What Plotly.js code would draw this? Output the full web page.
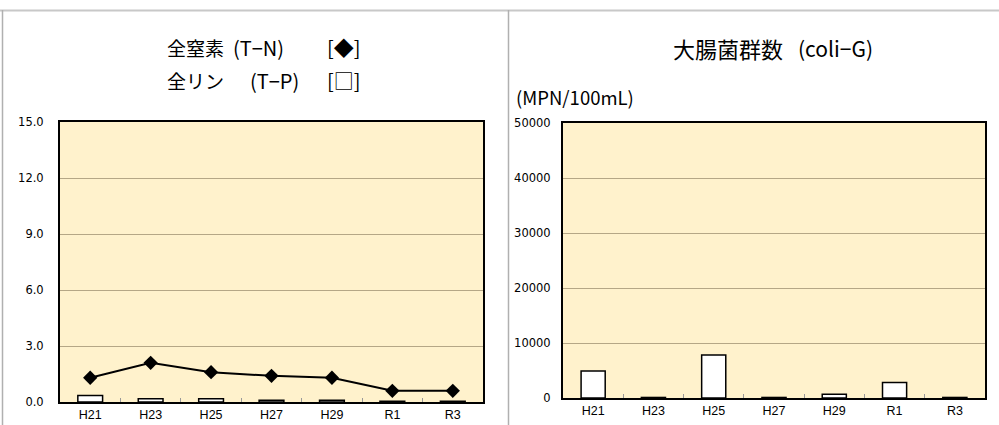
<!DOCTYPE html>
<html>
<head>
<meta charset="utf-8">
<script src="https://cdn.plot.ly/plotly-3.0.1.min.js"></script>
<style>html,body{margin:0;padding:0;background:#fff;}#chart{width:999px;height:425px;}</style>
</head>
<body>
<div id="chart"></div>
<script>
const years = ["H21", "H23", "H25", "H27", "H29", "R1", "R3"];
const totalNitrogen = [1.3, 2.1, 1.6, 1.4, 1.3, 0.6, 0.6];
const totalPhosphorus = [0.35, 0.18, 0.18, 0.1, 0.1, 0.04, 0.04];
const coliforms = [4900, 100, 7800, 100, 700, 2800, 100];
const leftTicks = [0, 3, 6, 9, 12, 15];
const rightTicks = [0, 10000, 20000, 30000, 40000, 50000];

const W = 999, H = 425;
const px = v => v / W;
const py = v => 1 - v / H;

const barStyle = {color: "#ffffff", line: {color: "#000000", width: 1.5}};
const yTickFont = {family: "DejaVu Sans, sans-serif", size: 11.5, color: "#000"};
const xTickFont = {family: "Liberation Sans, Arial, sans-serif", size: 12.5, color: "#000"};
const jp = "Noto Sans CJK JP, sans-serif";

const traces = [
  {type: "bar", x: years, y: totalPhosphorus, xaxis: "x", yaxis: "y", width: 0.41,
   marker: barStyle, hoverinfo: "skip", name: "T-P"},
  {type: "scatter", mode: "lines+markers", x: years, y: totalNitrogen, xaxis: "x", yaxis: "y",
   line: {color: "#000", width: 2}, marker: {symbol: "diamond", size: 11, color: "#000"}, name: "T-N"},
  {type: "bar", x: years, y: coliforms, xaxis: "x2", yaxis: "y2", width: 0.4,
   marker: barStyle, name: "coli-G"}
];

const xCommon = {type: "category", showline: true, mirror: true, linecolor: "#000", linewidth: 2,
  ticks: "inside", tickson: "boundaries", ticklen: 4, tickcolor: "#999", tickwidth: 1,
  showgrid: false, tickfont: xTickFont, fixedrange: true, zeroline: false};
const yCommon = {showline: true, mirror: true, linecolor: "#000", linewidth: 2, ticks: "",
  showgrid: true, gridcolor: "#b5a786", gridwidth: 1, zeroline: false, tickfont: yTickFont, fixedrange: true};

function label(text, x, y, size, anchor) {
  return {xref: "paper", yref: "paper", x: px(x), y: py(y), xanchor: anchor || "left", yanchor: "middle",
    showarrow: false, text: text, font: {family: jp, size: size, color: "#000"}};
}

const layout = {
  width: W, height: H,
  margin: {l: 0, r: 0, t: 0, b: 0},
  paper_bgcolor: "#ffffff",
  plot_bgcolor: "#fff2cc",
  showlegend: false,
  bargap: 0,
  xaxis: Object.assign({}, xCommon, {domain: [px(60), px(483)], anchor: "y"}),
  yaxis: Object.assign({}, yCommon, {domain: [py(402), py(122)], anchor: "x",
    range: [0, 15], tickvals: leftTicks, tickformat: ".1f", ticklabelstandoff: 12}),
  xaxis2: Object.assign({}, xCommon, {domain: [px(563), px(985)], anchor: "y2"}),
  yaxis2: Object.assign({}, yCommon, {domain: [py(398), py(123)], anchor: "x2",
    range: [0, 50000], tickvals: rightTicks, tickformat: "d", ticklabelstandoff: 8}),
  shapes: [
    {type: "line", xref: "paper", yref: "paper", x0: 0, x1: 1, y0: py(10.5), y1: py(10.5), line: {color: "#c8c8c8", width: 2}},
    {type: "line", xref: "paper", yref: "paper", x0: px(2.5), x1: px(2.5), y0: py(10), y1: 0, line: {color: "#b0b0b0", width: 1.5}},
    {type: "line", xref: "paper", yref: "paper", x0: px(508.5), x1: px(508.5), y0: py(10), y1: 0, line: {color: "#b0b0b0", width: 1.5}}
  ],
  annotations: [
    label("全窒素", 165, 48, 19),
    label("(T−N)", 231, 48, 20),
    label("[◆]", 325, 48, 20),
    label("全リン", 165, 81, 19),
    label("(T−P)", 248, 81, 20),
    label("[□]", 325, 81, 20),
    label("大腸菌群数", 671, 48, 22),
    label("(coli−G)", 796, 48, 21),
    label("(MPN/100mL)", 514, 97, 18.5)
  ]
};

Plotly.newPlot("chart", traces, layout, {displayModeBar: false, staticPlot: true});
</script>
</body>
</html>
